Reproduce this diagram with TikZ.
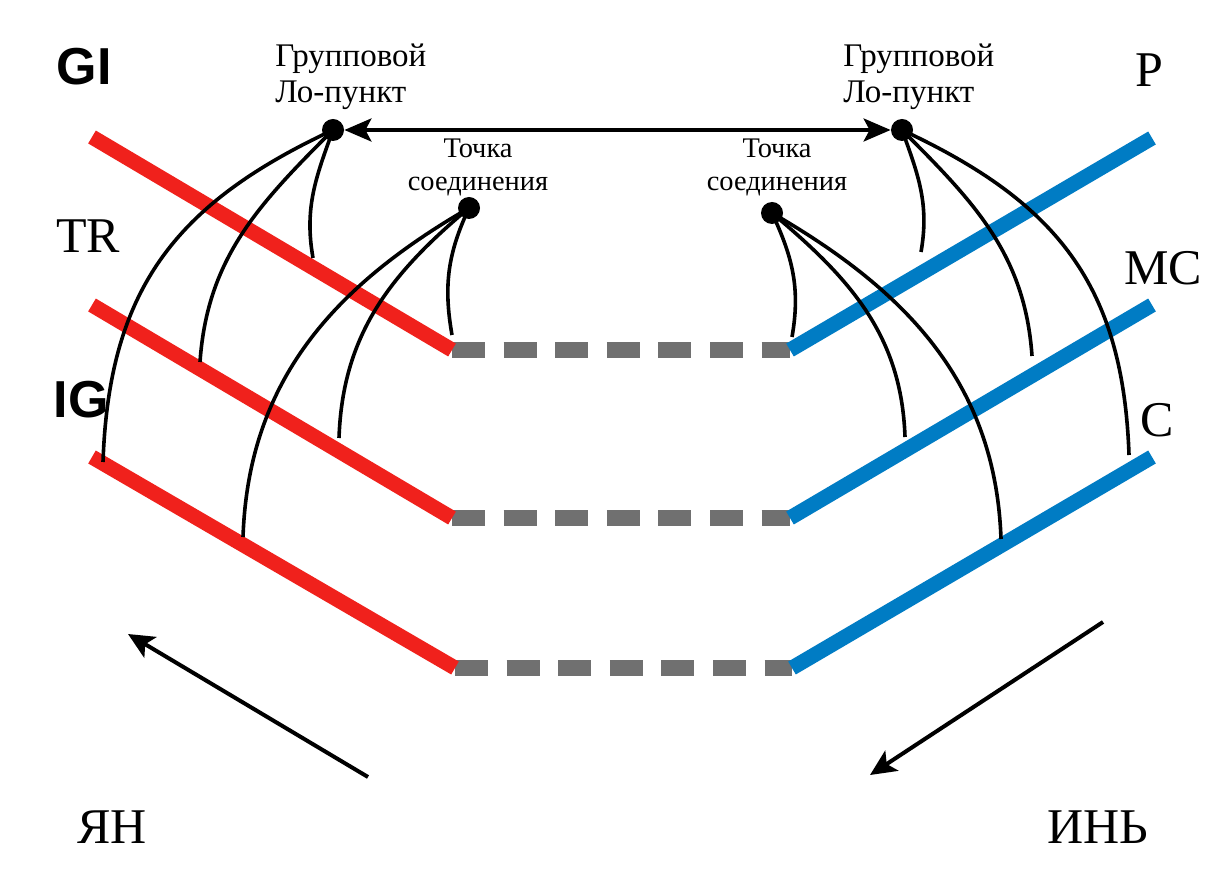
\documentclass[tikz,border=0pt]{standalone}
\usepackage{fontspec}
\setmainfont{Liberation Serif}
\newfontfamily\labsans{Liberation Sans}
\usetikzlibrary{arrows.meta}
\definecolor{yangred}{RGB}{240,33,28}
\definecolor{yinblue}{RGB}{0,124,196}
\definecolor{gapgray}{RGB}{112,112,112}
\begin{document}
\begin{tikzpicture}[x=0.5pt,y=0.5pt,
  redbar/.style={line width=7.5pt, yangred},
  bluebar/.style={line width=7.5pt, yinblue},
  graybar/.style={line width=8pt, gapgray, dash pattern=on 16.5pt off 9.3pt},
  meridian/.style={line width=1.8pt, black},
  dotpt/.style={circle, fill=black, inner sep=0pt, minimum size=11pt},
  biglabel/.style={font=\fontsize{25}{28}\selectfont, inner sep=0pt, anchor=base},
  sanslabel/.style={font=\labsans\bfseries\fontsize{26}{28}\selectfont, inner sep=0pt, anchor=base},
  grouplabel/.style={font=\fontsize{16.5}{18}\selectfont, inner sep=0pt, align=left, anchor=base west},
  jointlabel/.style={font=\fontsize{14.2}{16.5}\selectfont, inner sep=0pt, align=center, anchor=base},
  flowarrow/.style={line width=2pt, -{Stealth[length=13pt,width=12pt,inset=3pt]}},
  linkarrow/.style={line width=1.9pt, {Stealth[length=13.5pt,width=11.5pt,inset=3pt]}-{Stealth[length=13.5pt,width=11.5pt,inset=3pt]}}
]
\useasboundingbox (0,0) rectangle (1219,868);
\fill[white] (0,0) rectangle (1219,868);

% bar end points
\coordinate (r1a) at (92,731);  \coordinate (r1b) at (452,518);
\coordinate (r2a) at (92,563);  \coordinate (r2b) at (452,350);
\coordinate (r3a) at (92,411);  \coordinate (r3b) at (455,200);
\coordinate (b1a) at (790,518); \coordinate (b1b) at (1152,730);
\coordinate (b2a) at (790,350); \coordinate (b2b) at (1152,563);
\coordinate (b3a) at (792,200); \coordinate (b3b) at (1152,411);

% gray dashed gaps
\draw[graybar] (r1b) -- (b1a);
\draw[graybar] (r2b) -- (b2a);
\draw[graybar] (r3b) -- (b3a);

% coloured bars
\draw[redbar] (r1a) -- (r1b);
\draw[redbar] (r2a) -- (r2b);
\draw[redbar] (r3a) -- (r3b);
\draw[bluebar] (b1a) -- (b1b);
\draw[bluebar] (b2a) -- (b2b);
\draw[bluebar] (b3a) -- (b3b);

% points
\node[dotpt] (LG) at (333,738) {};
\node[dotpt] (RG) at (902,738) {};
\node[dotpt] (LC) at (469,660) {};
\node[dotpt] (RC) at (772,655) {};

% curve end points
\coordinate (a1) at (103,406); \coordinate (a2) at (200,506); \coordinate (a3) at (313,610);
\coordinate (e1) at (452,533); \coordinate (e2) at (339,430); \coordinate (e3) at (243,331);
\coordinate (c1) at (921,616); \coordinate (c2) at (1032,512); \coordinate (c3) at (1129,413);
\coordinate (d1) at (792,531); \coordinate (d2) at (905,431); \coordinate (d3) at (1001,329);

% curves
\draw[meridian] (LG.center) to[out=205,in=88,looseness=1.1] (a1);
\draw[meridian] (LG.center) to[out=225,in=86] (a2);
\draw[meridian] (LG.center) to[out=250,in=100] (a3);
\draw[meridian] (LC.center) to[out=245,in=100] (e1);
\draw[meridian] (LC.center) to[out=220,in=88] (e2);
\draw[meridian] (LC.center) to[out=210,in=88] (e3);
\draw[meridian] (RG.center) to[out=-25,in=92,looseness=1.1] (c3);
\draw[meridian] (RG.center) to[out=-45,in=94] (c2);
\draw[meridian] (RG.center) to[out=-70,in=80] (c1);
\draw[meridian] (RC.center) to[out=-65,in=80] (d1);
\draw[meridian] (RC.center) to[out=-40,in=92] (d2);
\draw[meridian] (RC.center) to[out=-30,in=92] (d3);

% link arrow
\draw[linkarrow] (LG) -- (RG);

% flow arrows
\coordinate (yangTail) at (368,91);  \coordinate (yangTip) at (128,234);
\coordinate (yinTail) at (1103,246); \coordinate (yinTip) at (870,93);
\draw[flowarrow] (yangTail) -- (yangTip);
\draw[flowarrow] (yinTail) -- (yinTip);

% labels
\node[sanslabel] (GI) at (84,783) {GI};
\node[sanslabel] (IG) at (81,450) {IG};
\node[biglabel] (TR) at (88,615) {TR};
\node[biglabel] (P) at (1149,781) {P};
\node[biglabel] (MC) at (1163,583) {MC};
\node[biglabel] (C) at (1157,431) {C};
\node[biglabel] (yang) at (112,25) {ЯН};
\node[biglabel] (yin) at (1098,25) {ИНЬ};

\node[grouplabel] (LGt) at (275,765) {Групповой\\Ло-пункт};
\node[grouplabel] (RGt) at (843,765) {Групповой\\Ло-пункт};
\node[jointlabel] (LCt) at (478,677) {Точка\\соединения};
\node[jointlabel] (RCt) at (777,677) {Точка\\соединения};
\end{tikzpicture}
\end{document}
